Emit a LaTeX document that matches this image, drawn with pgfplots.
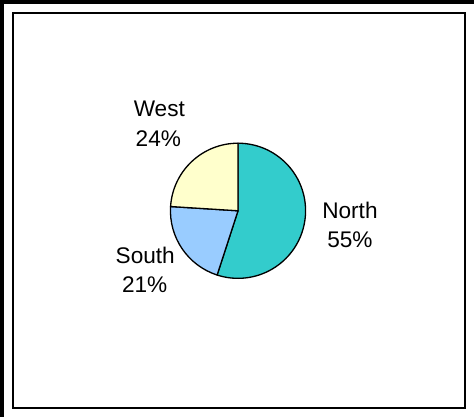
\documentclass[border=0pt]{standalone}
\usepackage{pgfplots}
\pgfplotsset{compat=1.18}
\usepackage{pgfplotstable}
\usepackage{fontspec}
\setmainfont{Liberation Sans}
\definecolor{northc}{HTML}{33CCCC}
\definecolor{southc}{HTML}{99CCFF}
\definecolor{westc}{HTML}{FFFFCC}
\pgfplotstableread{
region value
North 55
South 21
West 24
}\piedata
\pgfplotstablegetelem{0}{value}\of\piedata \edef\vN{\pgfplotsretval}
\pgfplotstablegetelem{1}{value}\of\piedata \edef\vS{\pgfplotsretval}
\pgfplotstablegetelem{2}{value}\of\piedata \edef\vW{\pgfplotsretval}
\pgfmathsetmacro\aN{90-3.6*\vN}
\pgfmathsetmacro\aS{\aN-3.6*\vS}
\pgfmathsetmacro\aW{\aS-3.6*\vW}
\begin{document}
\begin{tikzpicture}
\begin{axis}[
  width=474bp, height=418bp, scale only axis,
  xmin=0, xmax=474, ymin=0, ymax=418,
  hide axis, clip=false,
]
% outer frame (partial)
\fill[black] (axis cs:4,0) rectangle (axis cs:8,413);
\fill[black] (axis cs:4,409) rectangle (axis cs:474,413);
% inner frame
\draw[black, line width=2bp] (axis cs:17,8) rectangle (axis cs:465,400);
% pie
\draw[fill=northc, line width=1.3bp, line join=round] (axis cs:240,204) -- ++(90:67bp) arc[start angle=90, end angle=\aN, radius=67bp] -- cycle;
\draw[fill=southc, line width=1.3bp, line join=round] (axis cs:240,204) -- ++(\aN:67bp) arc[start angle=\aN, end angle=\aS, radius=67bp] -- cycle;
\draw[fill=westc, line width=1.3bp, line join=round] (axis cs:240,204) -- ++(\aS:67bp) arc[start angle=\aS, end angle=\aW, radius=67bp] -- cycle;
% labels
\tikzset{lab/.style={anchor=base, inner sep=0pt, font=\fontsize{22.5}{27}\selectfont}}
\node[lab] at (axis cs:162,297.3) {West};
\node[lab] at (axis cs:161,267.3) {\vW\%};
\node[lab] at (axis cs:351,196.3) {North};
\node[lab] at (axis cs:351,167.3) {\vN\%};
\node[lab] at (axis cs:148,152) {South};
\node[lab] at (axis cs:147.5,123) {\vS\%};
\end{axis}
\end{tikzpicture}
\end{document}
